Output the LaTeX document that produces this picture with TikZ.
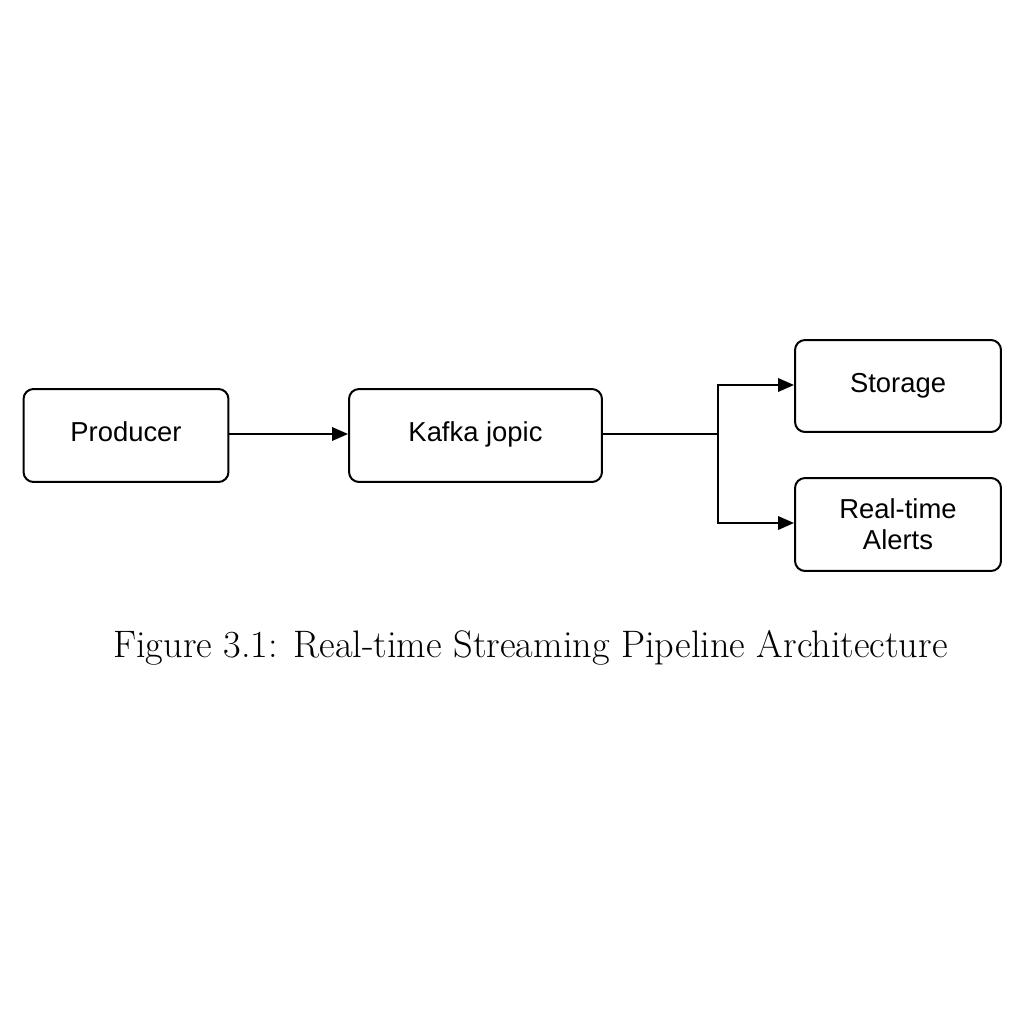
\documentclass[tikz,border=0pt]{standalone}
\usepackage{fontspec}
\newfontfamily\boxfont{Liberation Sans}
\usetikzlibrary{arrows.meta}
\begin{document}
\begin{tikzpicture}[x=0.02cm,y=-0.02cm,
  blk/.style={draw=black, line width=0.04cm, rounded corners=0.2cm, align=center,
    font=\boxfont\fontsize{15.6}{17.6}\selectfont, inner sep=0pt,
    text height=0.92em, text depth=0.2em},
  conn/.style={line width=0.04cm, draw=black},
  tip/.style={-{Triangle[length=0.32cm,width=0.27cm]}}]
\useasboundingbox (0,0) rectangle (1024,1024);
\fill[white] (0,0) rectangle (1024,1024);
\node[blk, minimum width=4.1cm, minimum height=1.86cm] (prod) at (126,435.5) {Producer};
\node[blk, minimum width=5.06cm, minimum height=1.86cm] (kafka) at (475.5,435.5) {Kafka jopic};
\node[blk, minimum width=4.12cm, minimum height=1.84cm] (stor) at (898,386) {Storage};
\node[blk, minimum width=4.12cm, minimum height=1.86cm, text height=, text depth=] (alert) at (898,524.5) {Real-time\\Alerts};
\coordinate (j) at (718,434);
\draw[conn, tip] (prod.east |- 0,434) -- (kafka.west |- 0,434);
\draw[conn] (kafka.east |- j) -- (j);
\draw[conn, tip] (j) |- (stor.west |- 0,385);
\draw[conn, tip] (j) |- (alert.west |- 0,523);
\node[font=\fontsize{21.8}{26}\selectfont, inner sep=0pt] (cap) at (530.5,648) {Figure 3.1: Real-time Streaming Pipeline Architecture};
\end{tikzpicture}
\end{document}
